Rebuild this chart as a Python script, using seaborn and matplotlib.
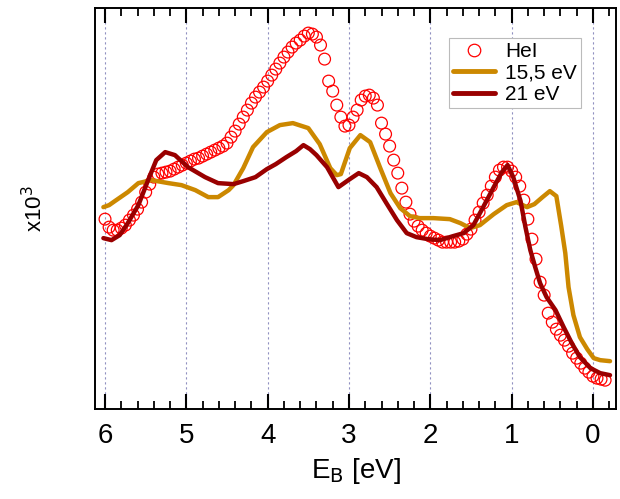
import matplotlib
matplotlib.use("Agg")
import matplotlib.pyplot as plt
from matplotlib.lines import Line2D
from matplotlib.ticker import MultipleLocator
import seaborn as sns
import pandas as pd

# ── data (binding energy in eV, intensity in arbitrary units)
hei_e = [6.00, 5.95, 5.90, 5.85, 5.80, 5.75, 5.70, 5.65, 5.60, 5.55, 5.50, 5.45, 5.40, 5.35,
         5.30, 5.25, 5.20, 5.15, 5.10, 5.05, 5.00, 4.95, 4.90, 4.85, 4.80, 4.75, 4.70, 4.65,
         4.60, 4.55, 4.50, 4.45, 4.40, 4.35, 4.30, 4.25, 4.20, 4.15, 4.10, 4.05, 4.00, 3.95,
         3.90, 3.85, 3.80, 3.75, 3.70, 3.65, 3.60, 3.55, 3.50, 3.45, 3.40, 3.35, 3.30, 3.25,
         3.20, 3.15, 3.10, 3.05, 3.00, 2.95, 2.90, 2.85, 2.80, 2.75, 2.70, 2.65, 2.60, 2.55,
         2.50, 2.45, 2.40, 2.35, 2.30, 2.25, 2.20, 2.15, 2.10, 2.05, 2.00, 1.95, 1.90, 1.85,
         1.80, 1.75, 1.70, 1.65, 1.60, 1.55, 1.50, 1.45, 1.40, 1.35, 1.30, 1.25, 1.20, 1.15,
         1.10, 1.05, 1.00, 0.95, 0.90, 0.85, 0.80, 0.75, 0.70, 0.65, 0.60, 0.55, 0.50, 0.45,
         0.40, 0.35, 0.30, 0.25, 0.20, 0.15, 0.10, 0.05, 0.00, -0.05, -0.10, -0.15]
hei_i = [190, 182, 179, 179, 181, 184, 189, 194, 200, 207, 217, 225, 232, 235,
         236, 237, 238, 240, 242, 244, 246, 248, 250, 251, 253, 255, 257, 259,
         261, 263, 266, 272, 278, 285, 292, 299, 306, 312, 317, 322, 328, 334,
         340, 346, 352, 357, 362, 366, 369, 373, 376, 375, 372, 364, 350, 328,
         318, 304, 292, 283, 284, 292, 299, 309, 313, 314, 311, 304, 286, 275,
         263, 249, 236, 221, 207, 195, 188, 183, 179, 176, 173, 171, 169, 167,
         167, 167, 167, 168, 170, 175, 180, 189, 197, 206, 214, 223, 232, 239,
         242, 242, 238, 232, 223, 209, 190, 170, 150, 127, 114, 96, 87, 80,
         74, 69, 63, 56, 51, 46, 41, 37, 33, 31, 30, 29]

e155 = [6.02, 5.95, 5.88, 5.72, 5.59, 5.43, 5.22, 5.06, 4.89, 4.73, 4.61, 4.48, 4.42, 4.30,
        4.18, 4.01, 3.85, 3.69, 3.50, 3.36, 3.23, 3.15, 3.10, 2.99, 2.86, 2.74, 2.62, 2.49,
        2.37, 2.25, 2.13, 1.96, 1.76, 1.63, 1.51, 1.39, 1.22, 1.06, 0.94, 0.81, 0.72, 0.62,
        0.53, 0.45, 0.39, 0.34, 0.30, 0.24, 0.16, 0.07, -0.01, -0.09, -0.21]
i155 = [202, 204, 208, 217, 226, 229, 226, 224, 219, 212, 212, 219, 224, 241,
        262, 277, 284, 286, 281, 265, 241, 234, 235, 261, 274, 267, 242, 216,
        201, 193, 191, 191, 190, 186, 181, 184, 195, 204, 207, 202, 205, 212,
        218, 213, 183, 156, 122, 94, 72, 60, 51, 49, 48]

e21 = [6.02, 5.92, 5.82, 5.72, 5.59, 5.47, 5.37, 5.26, 5.14, 4.98, 4.77, 4.61, 4.42, 4.30,
       4.15, 4.01, 3.90, 3.77, 3.65, 3.56, 3.48, 3.40, 3.27, 3.13, 2.99, 2.88, 2.78, 2.66,
       2.54, 2.41, 2.29, 2.17, 2.03, 1.88, 1.72, 1.59, 1.47, 1.35, 1.22, 1.12, 1.05, 0.98,
       0.89, 0.83, 0.77, 0.71, 0.65, 0.57, 0.46, 0.36, 0.26, 0.16, 0.03, -0.09, -0.21]
i21 = [171, 169, 174, 186, 204, 229, 249, 257, 254, 242, 232, 226, 225, 228,
       232, 240, 245, 252, 258, 264, 260, 254, 242, 222, 230, 236, 232, 222,
       206, 189, 176, 172, 170, 169, 173, 176, 184, 202, 222, 237, 244, 232,
       208, 182, 159, 142, 126, 112, 99, 82, 66, 52, 41, 36, 34]

GOLD = "#CC8800"
DRED = "#990000"
RED = "#FF0000"

sns.set_theme(style="ticks")
plt.rcParams["font.family"] = ["Liberation Sans", "DejaVu Sans"]
plt.rcParams.update({"text.color": "black", "axes.labelcolor": "black",
                     "xtick.color": "black", "ytick.color": "black"})

fig = plt.figure(figsize=(6.2, 4.99), dpi=100)
ax = fig.add_axes([0.153, 0.180, 0.841, 0.803])

for e in range(0, 7):
    ax.axvline(e, color="#9090C0", lw=0.8, ls=(0, (2, 2.5)), zorder=0)

sns.scatterplot(x=hei_e, y=hei_i, marker="o", s=72, facecolor="none",
                edgecolor=RED, linewidth=0.9, ax=ax, zorder=2)
sns.lineplot(x=e155, y=i155, color=GOLD, lw=3.2, ax=ax, sort=False, zorder=3)
sns.lineplot(x=e21, y=i21, color=DRED, lw=3.2, ax=ax, sort=False, zorder=4)

ax.set_xlim(6.125, -0.287)
ax.set_ylim(0, 400.6)
ax.xaxis.set_major_locator(MultipleLocator(1))
ax.xaxis.set_minor_locator(MultipleLocator(0.2))
ax.tick_params(axis="x", which="major", direction="in", length=11, width=1.5,
               top=True, bottom=True, labelsize=20, pad=10)
ax.tick_params(axis="x", which="minor", direction="in", length=5.5, width=1.3,
               top=True, bottom=True)
ax.set_yticks([])
for s in ax.spines.values():
    s.set_linewidth(1.4)
    s.set_color("black")

ax.set_xlabel(r"E$_\mathrm{B}$ [eV]", fontsize=20, labelpad=5)
ax.set_ylabel(r"x10$^3$", fontsize=16, labelpad=34)

handles = [
    Line2D([], [], ls="none", marker="o", ms=9, mfc="none", mec=RED, mew=0.9),
    Line2D([], [], color=GOLD, lw=3.5),
    Line2D([], [], color=DRED, lw=3.5),
]
leg = ax.legend(handles, ["HeI", "15,5 eV", "21 eV"], loc="upper left",
                bbox_to_anchor=(0.679, 0.927), fontsize=15, handlelength=2.0,
                handletextpad=0.5, labelspacing=0.12, borderpad=0.2,
                borderaxespad=0, fancybox=False, framealpha=1, edgecolor="#BBBBBB")
leg.get_frame().set_linewidth(0.8)

fig.savefig("out.png", dpi=100)
